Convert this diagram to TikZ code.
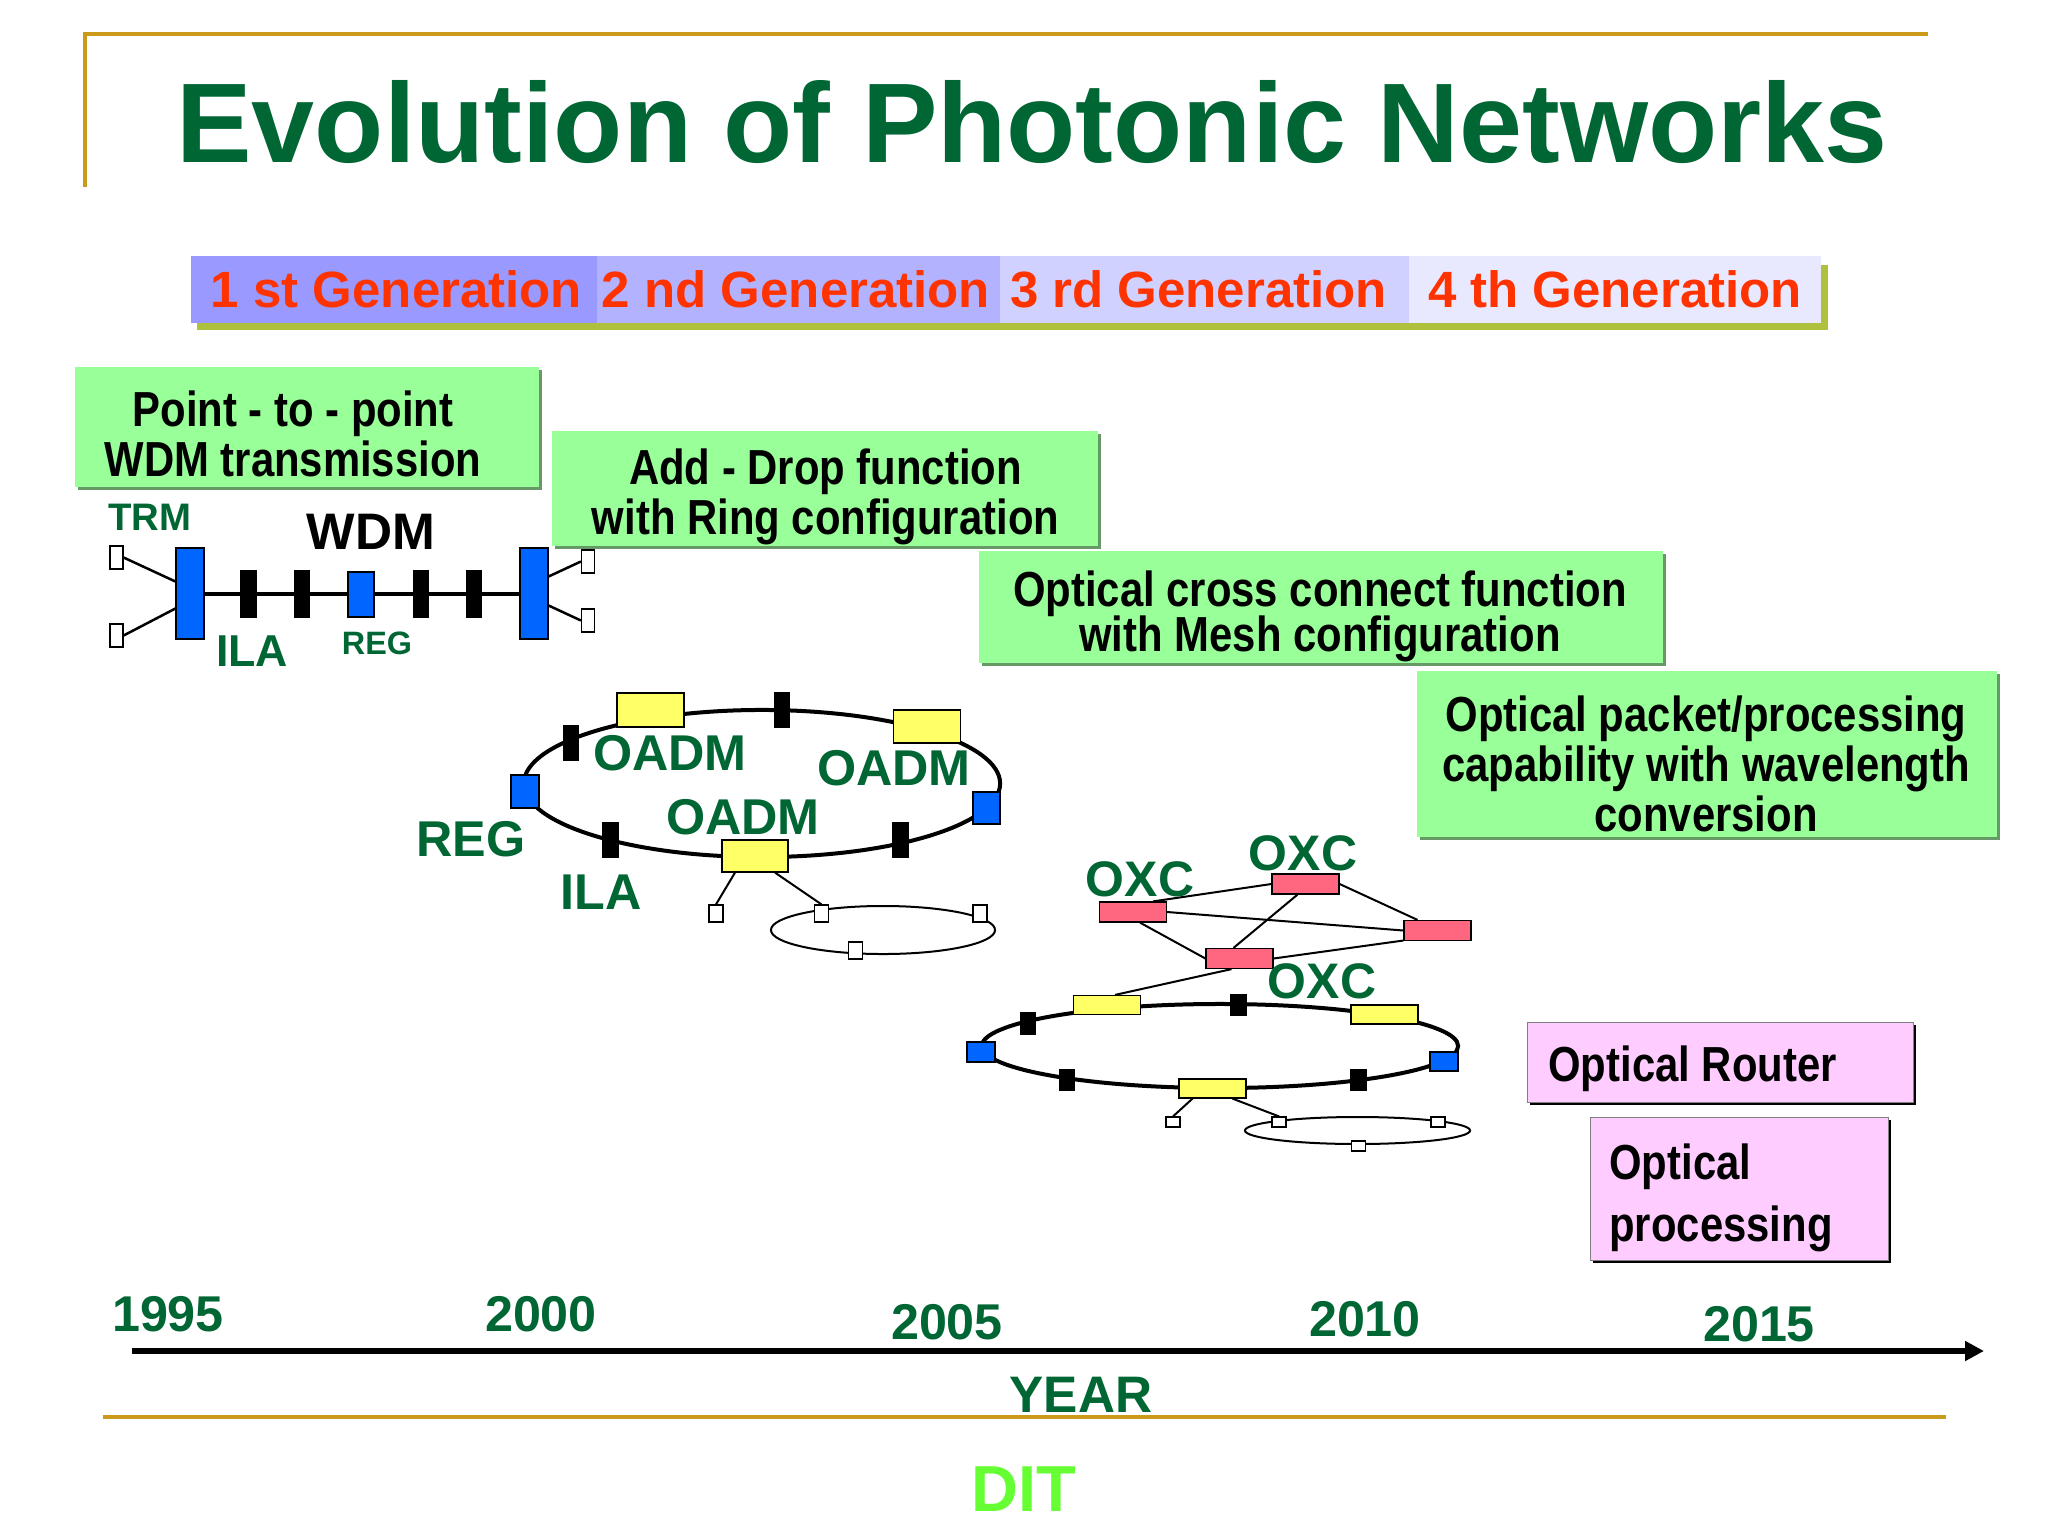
\documentclass[tikz,border=0pt]{standalone}
\usepackage{fontspec}
\setmainfont{Liberation Sans}
\newfontfamily\narrowfont[FakeStretch=0.85]{Liberation Sans}
\usetikzlibrary{shadows,arrows.meta}
\definecolor{netgreen}{HTML}{006633}
\definecolor{framegold}{HTML}{CC9A1A}
\definecolor{genred}{HTML}{FF3300}
\definecolor{genshade}{HTML}{AFC03C}
\definecolor{boxgreen}{HTML}{99FF99}
\definecolor{boxshade}{HTML}{669966}
\definecolor{boxpink}{HTML}{FFCCFF}
\definecolor{oxcred}{HTML}{FF6680}
\definecolor{oadmyellow}{HTML}{FFFF66}
\definecolor{regblue}{HTML}{0066FF}
\definecolor{ditgreen}{HTML}{66FF33}
\tikzset{
  lab/.style={inner sep=0pt,anchor=base,font=\bfseries\fontsize{14.3}{16}\selectfont,text=netgreen},
  gen/.style={inner sep=0pt,minimum height=0.67cm,font=\bfseries\fontsize{14.5}{16}\selectfont,text=genred},
  greenbox/.style={inner sep=0pt,fill=boxgreen,drop shadow={shadow xshift=0.03cm,shadow yshift=-0.03cm,fill=boxshade,opacity=1}},
  pinkbox/.style={inner sep=0pt,fill=boxpink,draw=black!50,line width=0.008cm,drop shadow={shadow xshift=0.03cm,shadow yshift=-0.03cm,fill=black,opacity=1}},
  boxtext/.style={inner sep=0pt,align=center,font=\narrowfont\bfseries\fontsize{14}{14.3}\selectfont},
  unit/.style 2 args={inner sep=0pt,draw=black,line width=0.012cm,minimum width=#1,minimum height=#2},
  trm/.style={fill=white},
  ila/.style={fill=black},
  reg/.style={fill=regblue},
  oadm/.style={fill=oadmyellow},
  oxc/.style={fill=oxcred,unit={0.67cm}{0.2cm}},
  link/.style={line width=0.02cm},
  fibre/.style={line width=0.04cm}
}
\begin{document}
\begin{tikzpicture}[x=0.01cm,y=-0.01cm]
\useasboundingbox (0,0) rectangle (2048,1536);
\fill[white] (0,0) rectangle (2048,1536);
% frame and title
\coordinate (frameA) at (85,187);
\coordinate (frameB) at (85,34);
\coordinate (frameC) at (1928,34);
\coordinate (frameD) at (103,1417);
\coordinate (frameE) at (1946,1417);
\draw[framegold,line width=0.04cm] (frameA) -- (frameB) -- (frameC);
\draw[framegold,line width=0.04cm] (frameD) -- (frameE);
\node[lab,font=\bfseries\fontsize{32.2}{34}\selectfont] (title) at (1032,162) {Evolution of Photonic Networks};
% generations
\fill[genshade] (197,265) rectangle (1828,330);
\node[gen,fill=blue!40,minimum width=4.06cm] (genA) at (394,289.5) {\kern0.05cm 1 st Generation};
\node[gen,fill=blue!30,minimum width=4.03cm] (genB) at (798.5,289.5) {\kern-0.05cm 2 nd Generation};
\node[gen,fill=blue!18,minimum width=4.09cm] (genC) at (1204.5,289.5) {\kern-0.12cm 3 rd Generation};
\node[gen,fill=blue!9,minimum width=4.12cm] (genD) at (1615,289.5) {4 th Generation};
% captions
\node[greenbox,minimum width=4.64cm,minimum height=1.2cm] (ptbox) at (307,427) {};
\node[boxtext] (pttext) at (293,434) {Point - to - point\\WDM transmission};
\node[greenbox,minimum width=5.45cm,minimum height=1.15cm] (addbox) at (825,488.5) {};
\node[boxtext] (addtext) at (825.5,497) {Add - Drop function\\with Ring configuration};
\node[greenbox,minimum width=6.84cm,minimum height=1.12cm] (oxcbox) at (1321,607) {};
\node[boxtext] (oxctext) at (1320,616) {Optical cross connect function\\[-1.5pt]with Mesh configuration};
\node[greenbox,minimum width=5.8cm,minimum height=1.66cm] (pktbox) at (1707,754) {};
\node[boxtext] (pkttext) at (1706,764) {Optical packet/processing\\capability with wavelength\\conversion};
\node[pinkbox,minimum width=3.86cm,minimum height=0.8cm] (routerbox) at (1720,1062) {};
\node[boxtext,align=left] (routertext) at (1692.5,1069) {Optical Router};
\node[pinkbox,minimum width=2.98cm,minimum height=1.43cm] (procbox) at (1739,1188.5) {};
\node[boxtext,align=left,font=\narrowfont\bfseries\fontsize{14}{17.8}\selectfont] (proctext) at (1721,1198) {Optical\\processing};
% point to point WDM
\node[lab,font=\bfseries\fontsize{10.9}{12}\selectfont] (trmlab) at (150,530) {TRM};
\node[lab,text=black,font=\bfseries\fontsize{14.6}{16}\selectfont] (wdmlab) at (371,549) {WDM};
\node[lab,font=\bfseries\fontsize{12.7}{14}\selectfont] (ilalab) at (252,666) {ILA};
\node[lab,font=\bfseries\fontsize{9.2}{10}\selectfont] (reglab) at (377,654) {REG};
\node[unit={0.28cm}{0.91cm},reg] (wdmL) at (190,593.5) {};
\node[unit={0.28cm}{0.91cm},reg] (wdmR) at (534,593.5) {};
\draw[fibre] (wdmL) -- (wdmR);
\node[unit={0.15cm}{0.46cm},ila] (wdmilaA) at (248.5,594) {};
\node[unit={0.15cm}{0.46cm},ila] (wdmilaB) at (302,594) {};
\node[unit={0.26cm}{0.45cm},reg] (wdmreg) at (361,594.5) {};
\node[unit={0.15cm}{0.46cm},ila] (wdmilaC) at (421,594) {};
\node[unit={0.15cm}{0.46cm},ila] (wdmilaD) at (474,594) {};
\node[unit={0.13cm}{0.23cm},trm] (trmA) at (116.5,557.5) {};
\node[unit={0.13cm}{0.23cm},trm] (trmB) at (116.5,635.5) {};
\node[unit={0.13cm}{0.23cm},trm] (trmC) at (588,561.5) {};
\node[unit={0.13cm}{0.23cm},trm] (trmD) at (588,620.5) {};
\draw[link,line width=0.025cm] (trmA.east) -- ([yshift=0.12cm]wdmL.west);
\draw[link,line width=0.025cm] (trmB.east) -- ([yshift=-0.15cm]wdmL.west);
\draw[link,line width=0.025cm] (trmC.west) -- ([yshift=0.17cm]wdmR.east);
\draw[link,line width=0.025cm] (trmD.west) -- ([yshift=-0.12cm]wdmR.east);
% ring with OADM
\draw[fibre] (762,783.5) ellipse [x radius=2.38cm,y radius=0.735cm];
\node[unit={0.67cm}{0.34cm},oadm] (oadmA) at (650.5,710) {};
\node[unit={0.67cm}{0.33cm},oadm] (oadmB) at (927,726.5) {};
\node[unit={0.66cm}{0.32cm},oadm] (oadmC) at (755,856) {};
\node[unit={0.15cm}{0.34cm},ila] (ringilaA) at (571,743) {};
\node[unit={0.15cm}{0.34cm},ila] (ringilaB) at (782,710) {};
\node[unit={0.15cm}{0.34cm},ila] (ringilaC) at (610.5,840) {};
\node[unit={0.15cm}{0.34cm},ila] (ringilaD) at (900.5,840) {};
\node[unit={0.28cm}{0.33cm},reg] (ringregA) at (525,791.5) {};
\node[unit={0.27cm}{0.32cm},reg] (ringregB) at (986.5,808) {};
\node[lab] (oadmlabA) at (670,770) {OADM};
\node[lab] (oadmlabB) at (894,785) {OADM};
\node[lab] (oadmlabC) at (743,834) {OADM};
\node[lab] (reglabB) at (471,856) {REG};
\node[lab] (ilalabB) at (601,909) {ILA};
\draw[link] (883,930) ellipse [x radius=1.12cm,y radius=0.24cm];
\node[unit={0.14cm}{0.17cm},trm] (addA) at (716,913.5) {};
\node[unit={0.14cm}{0.17cm},trm] (addB) at (821.5,913.5) {};
\node[unit={0.14cm}{0.17cm},trm] (addC) at (980,913.5) {};
\node[unit={0.14cm}{0.17cm},trm] (addD) at (855.5,950.5) {};
\draw[link] ([xshift=-0.2cm]oadmC.south) -- (addA.north);
\draw[link] ([xshift=0.2cm]oadmC.south) -- (addB.north);
% mesh with OXC
\node[unit={0.67cm}{0.2cm},oxc] (oxcA) at (1133,912) {};
\node[unit={0.67cm}{0.2cm},oxc] (oxcB) at (1305.5,884) {};
\node[unit={0.67cm}{0.2cm},oxc] (oxcC) at (1437.5,930.5) {};
\node[unit={0.67cm}{0.2cm},oxc] (oxcD) at (1239.5,958.5) {};
\draw[link] ([xshift=0.2cm]oxcA.north) -- (oxcB.west);
\draw[link] (oxcB.east) -- ([xshift=-0.2cm]oxcC.north);
\draw[link] (oxcA.east) -- (oxcC.west);
\draw[link] ([xshift=0.07cm]oxcA.south) -- (oxcD.west);
\draw[link] ([xshift=-0.08cm]oxcB.south) -- ([xshift=-0.06cm]oxcD.north);
\draw[link] (oxcD.east) -- ([yshift=-0.1cm]oxcC.west);
\node[lab,font=\bfseries\fontsize{14.2}{16}\selectfont] (oxclabA) at (1140,896) {OXC};
\node[lab,font=\bfseries\fontsize{14.2}{16}\selectfont] (oxclabB) at (1303,870) {OXC};
\node[lab,font=\bfseries\fontsize{14.2}{16}\selectfont] (oxclabC) at (1322,998) {OXC};
% lower ring
\draw[fibre] (1220,1046) ellipse [x radius=2.38cm,y radius=0.42cm];
\node[unit={0.67cm}{0.19cm},oadm] (ringoadmA) at (1107,1005) {};
\node[unit={0.67cm}{0.19cm},oadm] (ringoadmB) at (1384.5,1014.5) {};
\node[unit={0.67cm}{0.19cm},oadm] (ringoadmC) at (1212.5,1088.5) {};
\draw[link] ([xshift=-0.08cm]oxcD.south) -- ([xshift=0.08cm]ringoadmA.north);
\node[unit={0.15cm}{0.21cm},ila] (lowilaA) at (1028,1023.5) {};
\node[unit={0.15cm}{0.2cm},ila] (lowilaB) at (1238.5,1005) {};
\node[unit={0.15cm}{0.2cm},ila] (lowilaC) at (1067,1080) {};
\node[unit={0.15cm}{0.2cm},ila] (lowilaD) at (1358.5,1080) {};
\node[unit={0.28cm}{0.2cm},reg] (lowregA) at (981,1052) {};
\node[unit={0.28cm}{0.19cm},reg] (lowregB) at (1444,1061.5) {};
\draw[link] (1357.5,1130.5) ellipse [x radius=1.125cm,y radius=0.135cm];
\node[unit={0.14cm}{0.1cm},trm] (lowaddA) at (1173,1122) {};
\node[unit={0.14cm}{0.1cm},trm] (lowaddB) at (1279,1122) {};
\node[unit={0.14cm}{0.1cm},trm] (lowaddC) at (1438,1122) {};
\node[unit={0.14cm}{0.1cm},trm] (lowaddD) at (1358.5,1146) {};
\draw[link] ([xshift=-0.2cm]ringoadmC.south) -- (lowaddA.north);
\draw[link] ([xshift=0.2cm]ringoadmC.south) -- (lowaddB.north);
% time axis
\coordinate (axisA) at (132,1351);
\coordinate (axisB) at (1984,1351);
\draw[line width=0.06cm,-{Triangle[length=0.19cm,width=0.19cm]}] (axisA) -- (axisB);
\node[lab] (yearA) at (168,1331) {1995};
\node[lab] (yearB) at (541,1331) {2000};
\node[lab] (yearC) at (947,1339) {2005};
\node[lab] (yearD) at (1365,1336) {2010};
\node[lab] (yearE) at (1759,1341) {2015};
\node[lab,font=\bfseries\fontsize{14.6}{16}\selectfont] (yearlab) at (1081,1412) {YEAR};
\node[lab,text=ditgreen,font=\bfseries\fontsize{18.5}{20}\selectfont] (ditlab) at (1024,1511) {DIT};
\end{tikzpicture}
\end{document}
